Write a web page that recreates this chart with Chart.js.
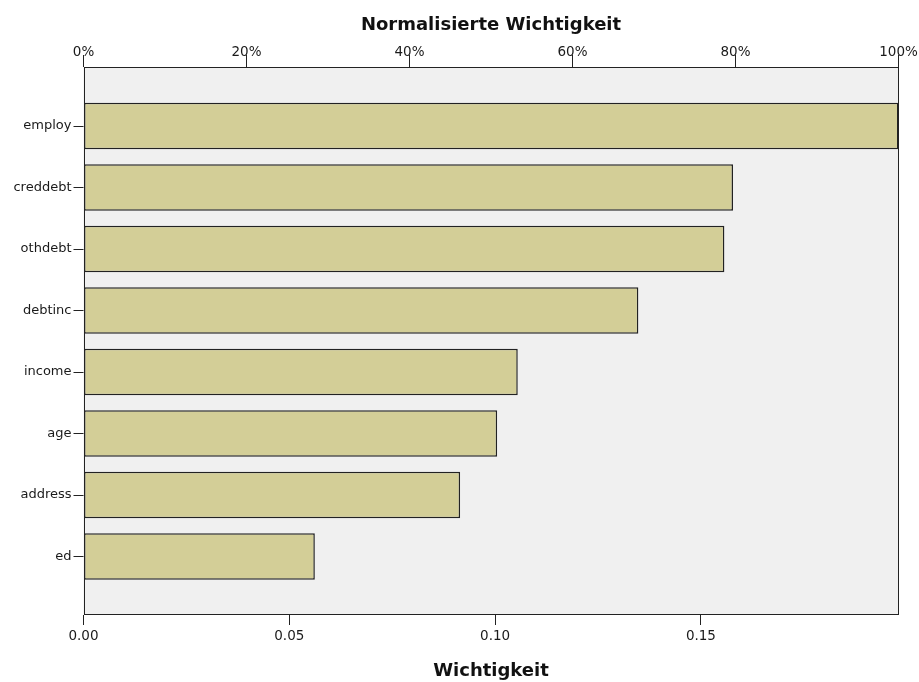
<!DOCTYPE html>
<html>
<head>
<meta charset="utf-8">
<title>Normalisierte Wichtigkeit</title>
<script src="https://cdn.jsdelivr.net/npm/chart.js@4/dist/chart.umd.min.js"></script>
<style>
  html, body { margin: 0; padding: 0; background: #ffffff; }
  canvas { display: block; }
</style>
</head>
<body>
<canvas id="chart" width="919" height="682"></canvas>
<script>
// Predictor importance (sums to 1)
const features = ['employ', 'creddebt', 'othdebt', 'debtinc', 'income', 'age', 'address', 'ed'];
const importance = [0.1980, 0.1578, 0.1557, 0.1348, 0.1055, 0.1005, 0.0915, 0.0562];

// Axis tick values
const importanceTicks = [0, 0.05, 0.10, 0.15];
const percentTicks = [0, 20, 40, 60, 80, 100];

const maxImportance = Math.max(...importance);

Chart.defaults.font.family = "'DejaVu Sans', sans-serif";
Chart.defaults.color = '#1a1a1a';

const AXIS_COLOR = '#222222';

// Grey plot background and a full frame around the plot area
const plotFrame = {
  id: 'plotFrame',
  beforeDatasetsDraw(chart) {
    const { ctx, chartArea: a } = chart;
    ctx.save();
    ctx.fillStyle = '#f0f0f0';
    ctx.fillRect(a.left, a.top, a.right - a.left, a.bottom - a.top);
    ctx.restore();
  },
  afterDatasetsDraw(chart) {
    const { ctx, chartArea: a } = chart;
    ctx.save();
    ctx.strokeStyle = AXIS_COLOR;
    ctx.lineWidth = 1;
    const l = Math.round(a.left) + 0.5, r = Math.round(a.right) - 0.5;
    const t = Math.round(a.top) + 0.5, b = Math.round(a.bottom) - 0.5;
    ctx.strokeRect(l, t, r - l, b - t);
    ctx.restore();
  }
};

new Chart(document.getElementById('chart'), {
  type: 'bar',
  data: {
    datasets: [{
      data: features.map((f, i) => ({ x: importance[i], y: i })),
      backgroundColor: '#d3ce97',
      borderColor: '#222222',
      borderWidth: 1.5,
      borderSkipped: false,
      categoryPercentage: 0.84,
      barPercentage: 0.9
    }]
  },
  options: {
    indexAxis: 'y',
    responsive: false,
    animation: false,
    devicePixelRatio: 1,
    layout: { autoPadding: false, padding: { top: 0, right: 20.5, bottom: 0, left: 0 } },
    plugins: {
      legend: { display: false },
      tooltip: { enabled: false }
    },
    scales: {
      y: {
        type: 'linear',
        reverse: true,
        offset: false,
        min: -0.96,
        max: 7.95,
        afterBuildTicks(scale) {
          scale.ticks = features.map((f, i) => ({ value: i }));
        },
        afterFit(scale) { scale.width = 83.5; },
        ticks: {
          autoSkip: false,
          padding: 2,
          font: { size: 13 },
          color: '#1a1a1a',
          callback: (v) => features[v]
        },
        grid: {
          offset: false,
          drawOnChartArea: false,
          drawTicks: true,
          tickLength: 10,
          tickColor: AXIS_COLOR
        },
        border: { display: false }
      },
      x: {
        type: 'linear',
        position: 'bottom',
        min: 0,
        max: maxImportance,
        afterBuildTicks(scale) {
          scale.ticks = importanceTicks.map(v => ({ value: v }));
        },
        afterFit(scale) { scale.height = 67; },
        ticks: {
          autoSkip: false,
          maxRotation: 0,
          padding: 3,
          font: { size: 13.5 },
          color: '#1a1a1a',
          callback: (v) => Number(v).toFixed(2)
        },
        grid: {
          drawOnChartArea: false,
          drawTicks: true,
          tickLength: 10,
          tickColor: AXIS_COLOR
        },
        border: { display: false },
        title: {
          display: true,
          text: 'Wichtigkeit',
          color: '#111111',
          font: { size: 18, weight: 'bold' },
          padding: { top: 0, bottom: 0 }
        }
      },
      x2: {
        type: 'linear',
        position: 'top',
        min: 0,
        max: 100,
        afterBuildTicks(scale) {
          scale.ticks = percentTicks.map(v => ({ value: v }));
        },
        afterFit(scale) { scale.height = 67; },
        ticks: {
          autoSkip: false,
          maxRotation: 0,
          padding: -6,
          font: { size: 13.5 },
          color: '#1a1a1a',
          callback: (v) => v + '%'
        },
        grid: {
          drawOnChartArea: false,
          drawTicks: true,
          tickLength: 12,
          tickColor: AXIS_COLOR
        },
        border: { display: false },
        title: {
          display: true,
          text: 'Normalisierte Wichtigkeit',
          color: '#111111',
          font: { size: 18, weight: 'bold' },
          padding: { top: 15, bottom: 0 }
        }
      }
    }
  },
  plugins: [plotFrame]
});
</script>
</body>
</html>
